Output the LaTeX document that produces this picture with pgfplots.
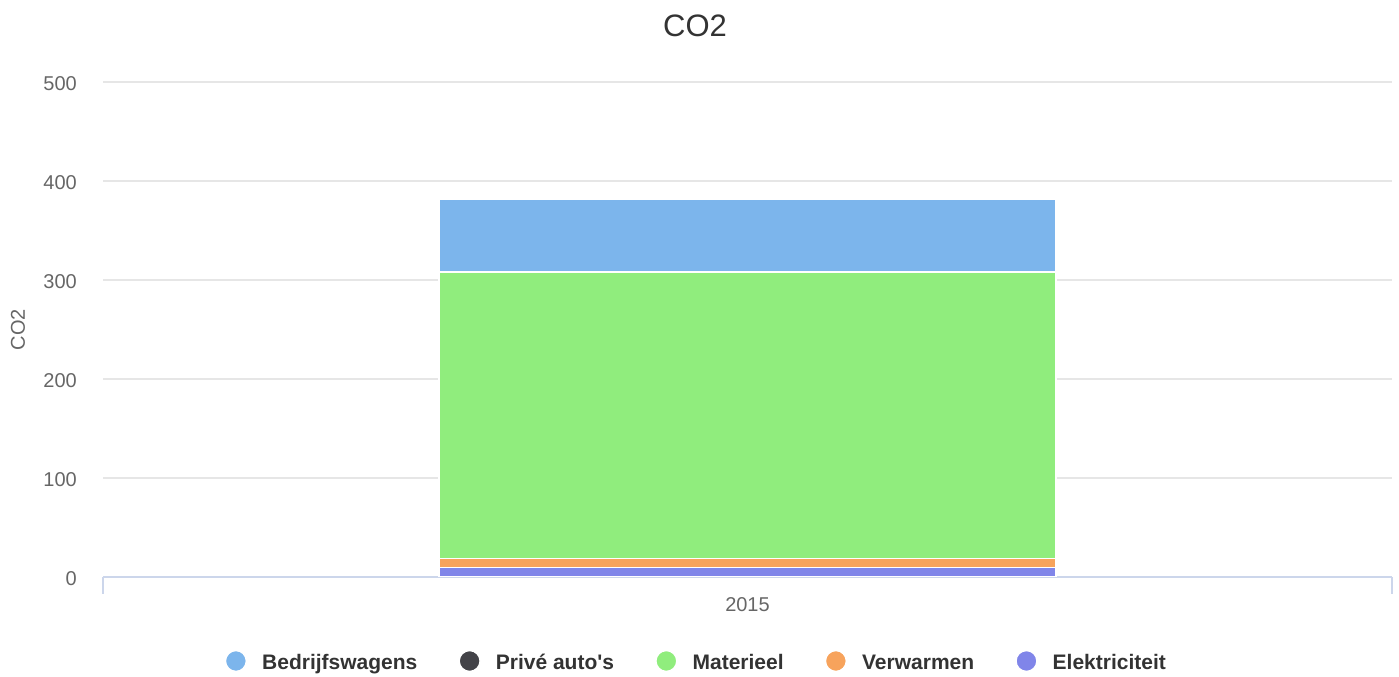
\documentclass[border=0pt]{standalone}
\usepackage{pgfplots}
\pgfplotsset{compat=1.18}
\usepackage{fontspec}
\setmainfont{Liberation Sans}[Ligatures=TeXOff]
\definecolor{cBed}{HTML}{7CB5EC}
\definecolor{cPri}{HTML}{434348}
\definecolor{cMat}{HTML}{90ED7D}
\definecolor{cVer}{HTML}{F7A35C}
\definecolor{cEle}{HTML}{8085E9}
\definecolor{gridc}{HTML}{E6E6E6}
\definecolor{axisc}{HTML}{CCD6EB}
\definecolor{labc}{HTML}{666666}
\definecolor{titc}{HTML}{333333}
\begin{document}
\begin{tikzpicture}[x=1bp,y=1bp]
\path[use as bounding box] (0,0) rectangle (1399,677);
\begin{axis}[
  at={(103bp,100bp)}, anchor=south west,
  scale only axis, width=1289bp, height=495bp,
  ybar stacked, bar width=617bp,
  xmin=-0.5, xmax=0.5, ymin=0, ymax=500,
  xtick={-0.5,0.5}, xticklabels={,},
  x tick style={draw=axisc, line width=1.5bp},
  xtick align=outside, major tick length=17bp,
  extra x ticks={0}, extra x tick labels={2015},
  extra x tick style={major tick length=0pt, grid=none},
  ytick={0,100,200,300,400,500},
  ymajorgrids, grid style={draw=gridc, line width=1.3bp},
  y tick style={draw=none},
  axis lines*=left,
  x axis line style={draw=axisc, line width=1.5bp},
  y axis line style={draw=none},
  /pgf/number format/assume math mode=true,
  yticklabel style={font=\fontsize{20bp}{24bp}\selectfont, text=labc, anchor=east, inner sep=0pt, xshift=-26bp, yshift=-2bp},
  xticklabel style={font=\fontsize{20bp}{24bp}\selectfont, text=labc, anchor=center, inner sep=0pt, yshift=-28bp},
  ylabel={CO2},
  ylabel style={font=\fontsize{20bp}{24bp}\selectfont, text=labc, at={(axis description cs:-0.0659,0.5)}, anchor=center, inner sep=0pt},
  title={CO2},
  title style={font=\fontsize{31bp}{36bp}\selectfont, text=titc, at={(axis description cs:0.4593,1)}, anchor=center, inner sep=0pt, yshift=50bp},
  legend columns=-1,
  reverse legend,
  legend image code/.code={\fill[#1] (10bp,0bp) circle (10.5bp);},
  legend style={draw=none, fill=none, at={(axis description cs:0.4595,-0.1697)}, anchor=center,
    font=\bfseries\fontsize{21bp}{25bp}\selectfont, text=titc,
    nodes={inner sep=0pt, text height=20bp, text depth=3bp},
    /tikz/every odd column/.append style={column sep=15bp},
    /tikz/every even column/.append style={column sep=41bp}},
]
\addplot[fill=cEle, draw=white, line width=1.5bp] coordinates {(0,9.5)};
\addlegendentry{Elektriciteit}
\addplot[fill=cVer, draw=white, line width=1.5bp] coordinates {(0,9)};
\addlegendentry{Verwarmen}
\addplot[fill=cMat, draw=white, line width=1.5bp] coordinates {(0,289.5)};
\addlegendentry{Materieel}
\addplot[fill=cPri, draw=white, line width=1.5bp] coordinates {(0,0)};
\addlegendentry{Privé auto's}
\addplot[fill=cBed, draw=white, line width=1.5bp] coordinates {(0,74)};
\addlegendentry{Bedrijfswagens}
\end{axis}
\end{tikzpicture}
\end{document}
